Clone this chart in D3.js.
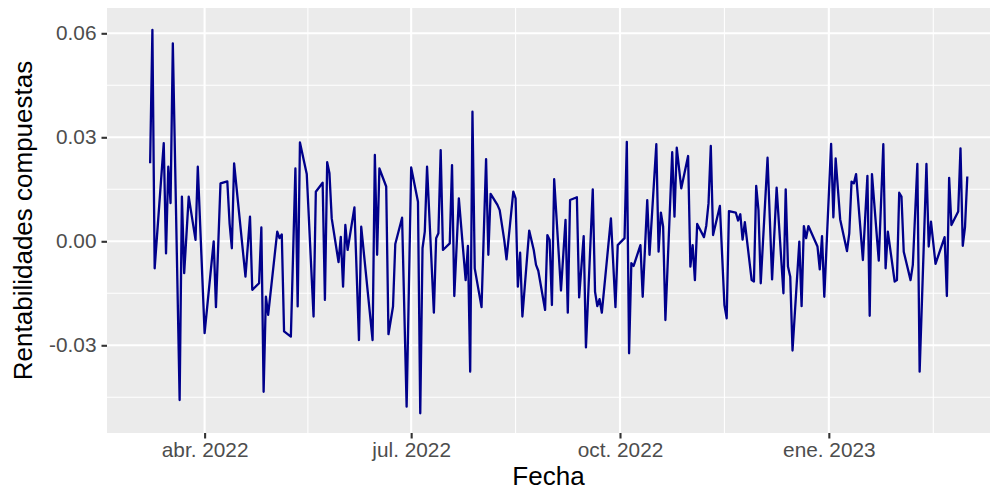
<!DOCTYPE html>
<html>
<head>
<meta charset="utf-8">
<script src="https://cdn.jsdelivr.net/npm/d3@7"></script>
<style>
  body { margin: 0; background: #ffffff; }
  svg { display: block; }
  text { font-family: "Liberation Sans", Arial, Helvetica, sans-serif; }
</style>
</head>
<body>
<svg id="chart" width="996" height="491"></svg>
<script>
// Daily compound (log) returns, one value per trading day
const fechas = [
  "2022-03-08","2022-03-09","2022-03-10","2022-03-11","2022-03-14","2022-03-15","2022-03-16","2022-03-17","2022-03-18",
  "2022-03-21","2022-03-22","2022-03-23","2022-03-25","2022-03-28","2022-03-29","2022-04-01",
  "2022-04-05","2022-04-06","2022-04-08","2022-04-11","2022-04-12","2022-04-13","2022-04-14",
  "2022-04-19","2022-04-21","2022-04-22","2022-04-25","2022-04-26","2022-04-27","2022-04-28","2022-04-29",
  "2022-05-03","2022-05-04","2022-05-05","2022-05-06","2022-05-09","2022-05-11","2022-05-12","2022-05-13",
  "2022-05-16","2022-05-19","2022-05-20","2022-05-23","2022-05-24","2022-05-25","2022-05-26","2022-05-27",
  "2022-05-30","2022-05-31","2022-06-01","2022-06-02","2022-06-03","2022-06-06","2022-06-08","2022-06-09",
  "2022-06-14","2022-06-15","2022-06-16","2022-06-17","2022-06-20","2022-06-21","2022-06-23","2022-06-24",
  "2022-06-27","2022-06-29","2022-07-01","2022-07-04","2022-07-05","2022-07-06","2022-07-07","2022-07-08",
  "2022-07-11","2022-07-12","2022-07-13","2022-07-14","2022-07-15","2022-07-18","2022-07-19","2022-07-20",
  "2022-07-22","2022-07-25","2022-07-26","2022-07-27","2022-07-28","2022-07-29","2022-08-01",
  "2022-08-03","2022-08-04","2022-08-05","2022-08-08","2022-08-09","2022-08-11","2022-08-12",
  "2022-08-15","2022-08-16","2022-08-17","2022-08-18","2022-08-19","2022-08-22","2022-08-24","2022-08-25","2022-08-26",
  "2022-08-29","2022-08-30","2022-08-31","2022-09-01","2022-09-02","2022-09-05","2022-09-07","2022-09-08","2022-09-09",
  "2022-09-12","2022-09-13","2022-09-15","2022-09-16","2022-09-19","2022-09-20","2022-09-21","2022-09-22","2022-09-23",
  "2022-09-27","2022-09-29","2022-09-30","2022-10-03","2022-10-04","2022-10-05","2022-10-06","2022-10-07",
  "2022-10-10","2022-10-11","2022-10-13","2022-10-14","2022-10-17","2022-10-18","2022-10-19","2022-10-20","2022-10-21",
  "2022-10-24","2022-10-25","2022-10-26","2022-10-28","2022-10-31","2022-11-01","2022-11-02","2022-11-03","2022-11-04",
  "2022-11-07","2022-11-08","2022-11-09","2022-11-10","2022-11-11","2022-11-14","2022-11-16","2022-11-17","2022-11-18",
  "2022-11-21","2022-11-22","2022-11-23","2022-11-24","2022-11-25","2022-11-28","2022-11-29","2022-11-30",
  "2022-12-01","2022-12-02","2022-12-05","2022-12-07","2022-12-09","2022-12-12","2022-12-13","2022-12-14","2022-12-15","2022-12-16",
  "2022-12-19","2022-12-20","2022-12-21","2022-12-22","2022-12-23","2022-12-27","2022-12-28","2022-12-29","2022-12-30",
  "2023-01-02","2023-01-03","2023-01-04","2023-01-06","2023-01-09","2023-01-10","2023-01-11","2023-01-12","2023-01-13",
  "2023-01-16","2023-01-18","2023-01-19","2023-01-20","2023-01-23","2023-01-25","2023-01-26","2023-01-27",
  "2023-01-30","2023-01-31","2023-02-01","2023-02-02","2023-02-03","2023-02-06","2023-02-07","2023-02-09","2023-02-10",
  "2023-02-13","2023-02-14","2023-02-15","2023-02-17","2023-02-21","2023-02-22","2023-02-23","2023-02-24",
  "2023-02-27","2023-02-28","2023-03-01","2023-03-02","2023-03-03"
];

const rentabilidades = [
  0.0225, 0.0610, -0.0078, 0.0013, 0.0283, -0.0035, 0.0215, 0.0110, 0.0571,
  -0.0458, 0.0129, -0.0092, 0.0129, 0.0004, 0.0215, -0.0265,
  0.0000, -0.0190, 0.0167, 0.0173, 0.0052, -0.0020, 0.0225,
  -0.0102, 0.0071, -0.0140, -0.0121, 0.0040, -0.0434, -0.0160, -0.0212,
  0.0028, 0.0009, 0.0020, -0.0260, -0.0275, 0.0210, -0.0188, 0.0285,
  0.0194, -0.0217, 0.0143, 0.0169, -0.0169, 0.0228, 0.0196, 0.0066,
  -0.0060, 0.0013, -0.0131, 0.0047, -0.0025, 0.0098, -0.0285, 0.0042,
  -0.0285, 0.0249, -0.0039, 0.0210, 0.0158, -0.0268, -0.0188, -0.0008,
  0.0068, -0.0477, 0.0213, 0.0114, -0.0496, -0.0020, 0.0028, 0.0215,
  -0.0206, 0.0009, 0.0023, 0.0263, -0.0025, -0.0006, 0.0220, -0.0158,
  0.0124, -0.0112, -0.0013, -0.0376, 0.0374, -0.0078, -0.0190,
  0.0237, -0.0039, 0.0137, 0.0105, 0.0090, 0.0004, -0.0052,
  0.0143, 0.0124, -0.0131, -0.0033, -0.0217, 0.0031, -0.0025, -0.0068, -0.0085,
  -0.0198, 0.0018, 0.0004, -0.0184, 0.0179, -0.0142, 0.0062, -0.0206, 0.0119,
  0.0127, -0.0162, 0.0015, -0.0306, 0.0150, -0.0145, -0.0187, -0.0167, -0.0206,
  0.0066, -0.0190, -0.0011, 0.0009, 0.0287, -0.0323, -0.0063, -0.0071,
  -0.0011, -0.0160, 0.0119, -0.0039, 0.0280, -0.0030, 0.0083, 0.0042, -0.0227,
  0.0257, 0.0071, 0.0270, 0.0153, 0.0246, -0.0073, -0.0011, -0.0112, 0.0050,
  0.0012, 0.0045, 0.0110, 0.0275, 0.0018, 0.0102, -0.0184, -0.0222, 0.0087,
  0.0083, 0.0060, 0.0078, 0.0005, 0.0055, -0.0112, -0.0116, 0.0160,
  0.0090, -0.0121, 0.0241, -0.0110, 0.0155, -0.0150, 0.0150, -0.0073, -0.0102, -0.0315,
  -0.0001, -0.0187, 0.0044, 0.0009, 0.0044, -0.0015, -0.0081, 0.0015, -0.0160,
  0.0281, 0.0069, 0.0239, 0.0063, -0.0028, 0.0023, 0.0172, 0.0167, 0.0194,
  -0.0054, 0.0189, -0.0215, 0.0194, -0.0056, 0.0280, -0.0078, 0.0028,
  -0.0116, -0.0112, 0.0140, 0.0129, -0.0030, -0.0112, -0.0068, 0.0223, -0.0376,
  0.0223, -0.0015, 0.0057, -0.0065, 0.0012, -0.0158, 0.0183, 0.0047,
  0.0086, 0.0268, -0.0013, 0.0042, 0.0187
];

// Axis breaks and labels
const xTickFechas = ["2022-04-01", "2022-07-01", "2022-10-01", "2023-01-01"];
const xTickEtiquetas = ["abr. 2022", "jul. 2022", "oct. 2022", "ene. 2023"];
const xLimites = ["2022-02-17", "2023-03-13"];
const yTicks = [-0.03, 0.00, 0.03, 0.06];
const yTickEtiquetas = ["-0.03", "0.00", "0.03", "0.06"];
const yMinor = [-0.045, -0.015, 0.015, 0.045];
const yLimites = [-0.0553, 0.0673];

const tituloX = "Fecha";
const tituloY = "Rentabilidades compuestas";

// Layout
const panel = { left: 107, right: 990, top: 8, bottom: 433 };
const colores = {
  fondo: "#EBEBEB", grid: "#FFFFFF", linea: "#00008B",
  tick: "#333333", etiqueta: "#4D4D4D", titulo: "#000000"
};
const tamTick = "20.8px";
const tamTitulo = "26px";

const parse = d3.utcParse("%Y-%m-%d");
const datos = fechas.map((f, i) => ({ fecha: parse(f), valor: rentabilidades[i] }));

const x = d3.scaleUtc()
  .domain(xLimites.map(parse))
  .range([panel.left, panel.right]);
const y = d3.scaleLinear()
  .domain(yLimites)
  .range([panel.bottom, panel.top]);

const svg = d3.select("#chart");

// Panel background
svg.append("rect")
  .attr("x", panel.left).attr("y", panel.top)
  .attr("width", panel.right - panel.left)
  .attr("height", panel.bottom - panel.top)
  .attr("fill", colores.fondo);

const xMayores = xTickFechas.map(parse);
// minor breaks halfway between major breaks, plus one past the last major
const xMenores = d3.pairs(xMayores).map(([a, b]) => new Date((+a + +b) / 2));
const medioPaso = (+xMayores[3] - +xMayores[2]) / 2;
xMenores.push(new Date(+xMayores[3] + medioPaso));

const grid = svg.append("g");
// minor grid
grid.selectAll(".ymin").data(yMinor).join("line")
  .attr("x1", panel.left).attr("x2", panel.right)
  .attr("y1", d => y(d)).attr("y2", d => y(d))
  .attr("stroke", colores.grid).attr("stroke-width", 1.05);
grid.selectAll(".xmin").data(xMenores.filter(d => x(d) > panel.left && x(d) < panel.right)).join("line")
  .attr("y1", panel.top).attr("y2", panel.bottom)
  .attr("x1", d => x(d)).attr("x2", d => x(d))
  .attr("stroke", colores.grid).attr("stroke-width", 1.05);
// major grid
grid.selectAll(".ymaj").data(yTicks).join("line")
  .attr("x1", panel.left).attr("x2", panel.right)
  .attr("y1", d => y(d)).attr("y2", d => y(d))
  .attr("stroke", colores.grid).attr("stroke-width", 2.1);
grid.selectAll(".xmaj").data(xMayores).join("line")
  .attr("y1", panel.top).attr("y2", panel.bottom)
  .attr("x1", d => x(d)).attr("x2", d => x(d))
  .attr("stroke", colores.grid).attr("stroke-width", 2.1);

// Returns series
const linea = d3.line().x(d => x(d.fecha)).y(d => y(d.valor));
svg.append("path")
  .datum(datos)
  .attr("d", linea)
  .attr("fill", "none")
  .attr("stroke", colores.linea)
  .attr("stroke-width", 2.3)
  .attr("stroke-linejoin", "round");

// Bottom axis
const ejeX = svg.append("g")
  .attr("transform", `translate(0,${panel.bottom})`)
  .call(d3.axisBottom(x).tickValues(xMayores)
    .tickFormat((d, i) => xTickEtiquetas[i]).tickSize(5.5).tickPadding(3.5));
ejeX.select(".domain").remove();
ejeX.selectAll(".tick line").attr("stroke", colores.tick).attr("stroke-width", 2.1);
ejeX.selectAll(".tick text")
  .attr("fill", colores.etiqueta).style("font-size", tamTick)
  .style("font-family", '"Liberation Sans", Arial, sans-serif');

// Left axis
const ejeY = svg.append("g")
  .attr("transform", `translate(${panel.left},0)`)
  .call(d3.axisLeft(y).tickValues(yTicks)
    .tickFormat((d, i) => yTickEtiquetas[i]).tickSize(5.5).tickPadding(5));
ejeY.select(".domain").remove();
ejeY.selectAll(".tick line").attr("stroke", colores.tick).attr("stroke-width", 2.1);
ejeY.selectAll(".tick text")
  .attr("fill", colores.etiqueta).style("font-size", tamTick)
  .style("font-family", '"Liberation Sans", Arial, sans-serif');

// Axis titles
svg.append("text")
  .attr("x", (panel.left + panel.right) / 2).attr("y", 485)
  .attr("text-anchor", "middle")
  .attr("fill", colores.titulo).style("font-size", tamTitulo)
  .text(tituloX);
svg.append("text")
  .attr("transform", `translate(32,${(panel.top + panel.bottom) / 2}) rotate(-90)`)
  .attr("text-anchor", "middle")
  .attr("fill", colores.titulo).style("font-size", tamTitulo)
  .text(tituloY);
</script>
</body>
</html>
